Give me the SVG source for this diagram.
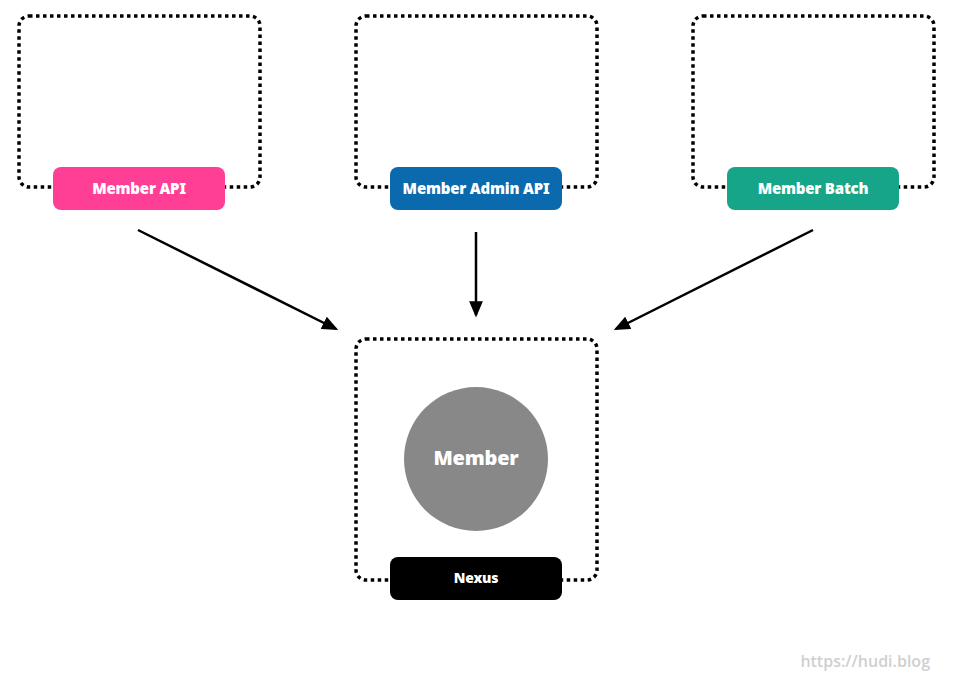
<svg xmlns="http://www.w3.org/2000/svg" width="953" height="693" viewBox="0 0 953 693">
<style>
.frame{fill:none;stroke:#000;stroke-width:3.5;stroke-dasharray:3.5 3.5;}
.lbl{font-family:"Noto Sans","Liberation Sans",sans-serif;font-weight:900;font-size:15px;fill:#fff;text-anchor:middle;letter-spacing:-0.2px;}
.conn{stroke:#000;stroke-width:2.5;fill:none;}
</style>
<defs>
<marker id="ah" markerWidth="6.5" markerHeight="5.5" refX="5.5" refY="2.75" orient="auto" markerUnits="strokeWidth">
<path d="M0,0 L6.5,2.75 L0,5.5 Z" fill="#000"/>
</marker>
</defs>
<rect width="953" height="693" fill="#fff"/>
<g id="member-api">
<rect class="frame" x="19" y="16" width="241" height="171" rx="10"/>
<rect x="53" y="167" width="172" height="43" rx="8" fill="#FF3E96"/>
<text class="lbl" x="139" y="194">Member API</text>
</g>
<g id="member-admin-api">
<rect class="frame" x="356" y="16" width="241" height="171" rx="10"/>
<rect x="390" y="167" width="172" height="43" rx="8" fill="#0A6AAD"/>
<text class="lbl" x="476" y="194">Member Admin API</text>
</g>
<g id="member-batch">
<rect class="frame" x="693" y="16" width="241" height="171" rx="10"/>
<rect x="727" y="167" width="172" height="43" rx="8" fill="#17A589"/>
<text class="lbl" x="813" y="194">Member Batch</text>
</g>
<g id="nexus">
<rect class="frame" x="356" y="339" width="241" height="241" rx="10"/>
<circle cx="476" cy="459" r="72" fill="#888888"/>
<text class="lbl" x="476" y="465" style="font-size:20px">Member</text>
<rect x="390" y="557" width="172" height="43" rx="8" fill="#000"/>
<text class="lbl" x="476" y="583" style="font-size:14px">Nexus</text>
</g>
<g id="connectors">
<line class="conn" x1="138" y1="230" x2="336" y2="329" marker-end="url(#ah)"/>
<line class="conn" x1="476" y1="232" x2="476" y2="315" marker-end="url(#ah)"/>
<line class="conn" x1="813" y1="230" x2="616" y2="329" marker-end="url(#ah)"/>
</g>
<text x="930" y="667" text-anchor="end" style="font-family:'Open Sans','Liberation Sans',sans-serif;font-size:16px;font-weight:600;fill:#cfcfcf">https://hudi.blog</text>
</svg>
